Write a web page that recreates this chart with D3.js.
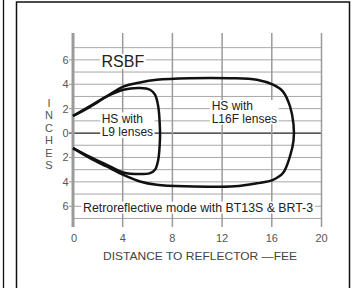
<!DOCTYPE html>
<html>
<head>
<meta charset="utf-8">
<script src="https://cdn.jsdelivr.net/npm/d3@7"></script>
<style>
  html, body { margin: 0; padding: 0; background: #fff; }
  svg { display: block; }
  text { font-family: "Liberation Sans", Arial, sans-serif; }
</style>
</head>
<body>
<svg id="chart" width="352" height="288"></svg>
<script>
// ---- data ----
const xTicks = [0, 4, 8, 12, 16, 20];
const yTickValues = [6, 4, 2, 0, -2, -4, -6];
const yTickLabels = ["6", "4", "2", "0", "2", "4", "6"];
const gridRows = [7, 6, 5, 4, 3, 2, 1, 0, -1, -2, -3, -4, -5, -6, -7];
const yTitle = "INCHES";
const xTitle = "DISTANCE TO REFLECTOR \u2014FEE";
const chartTitle = "RSBF";
const footnote = "Retroreflective mode with BT13S & BRT-3";

// HS with L16F lenses envelope [distance ft, inches]
const l16fCurve = [
  [0, 1.4], [1.37, 2.15], [2.71, 3.0], [4.05, 3.8], [5.39, 4.15], [6.73, 4.37],
  [9.4, 4.5], [12.6, 4.5], [14.8, 4.37], [16.1, 3.96], [16.9, 3.4], [17.46, 2.2],
  [17.75, 0.7], [17.75, -0.6], [17.46, -1.92], [16.9, -3.28], [16.1, -3.83],
  [14.8, -4.12], [13.0, -4.37], [9.0, -4.37], [6.73, -4.24], [5.39, -3.97],
  [4.05, -3.42], [2.71, -2.74], [1.37, -2.05], [0, -1.23]
];
// HS with L9 lenses envelope
const l9Curve = [
  [0, 1.4], [1.37, 2.2], [2.71, 3.0], [4.05, 3.55], [5.39, 3.69], [6.2, 3.55],
  [6.6, 3.14], [6.86, 2.18], [7.0, 0.3], [7.0, -0.5], [6.86, -2.19], [6.6, -3.0],
  [6.2, -3.28], [5.39, -3.36], [4.05, -3.23], [2.71, -2.6], [1.37, -1.95], [0, -1.23]
];
const l9Label = ["HS with", "L9 lenses"];
const l16fLabel = ["HS with", "L16F lenses"];

// ---- drawing ----
const svg = d3.select("#chart");

// frames
svg.append("line").attr("x1", 3.5).attr("x2", 3.5).attr("y1", 0).attr("y2", 288)
  .attr("stroke", "#111").attr("stroke-width", 1.3);
svg.append("rect").attr("x", 16.5).attr("y", 2).attr("width", 333).attr("height", 300)
  .attr("fill", "none").attr("stroke", "#111").attr("stroke-width", 1.5);

const x = d3.scaleLinear().domain([0, 20]).range([73, 321.5]);
const y = d3.scaleLinear().domain([-7.7, 8.2]).range([227, 33]);

// horizontal grid
svg.append("g").selectAll("line").data(gridRows).join("line")
  .attr("x1", x(0)).attr("x2", x(20))
  .attr("y1", d => y(d)).attr("y2", d => y(d))
  .attr("stroke", d => d === 0 ? "#222" : "#a8a8a8")
  .attr("stroke-width", d => d === 0 ? 1.2 : 1);

// tick stubs left of axis for labelled rows
svg.append("g").selectAll("line").data(yTickValues).join("line")
  .attr("x1", x(0) - 4).attr("x2", x(0))
  .attr("y1", d => y(d)).attr("y2", d => y(d))
  .attr("stroke", d => d === 0 ? "#222" : "#999").attr("stroke-width", 1);

// vertical grid
svg.append("g").selectAll("line").data(xTicks).join("line")
  .attr("x1", d => x(d)).attr("x2", d => x(d))
  .attr("y1", y(8.2)).attr("y2", y(-7.7))
  .attr("stroke", "#9a9a9a")
  .attr("stroke-width", d => d === 0 ? 3 : 1.5);

// y tick labels
svg.append("g").selectAll("text").data(yTickValues).join("text")
  .attr("x", x(0) - 4.5).attr("y", d => y(d) + 4)
  .attr("text-anchor", "end").attr("font-size", 11).attr("fill", "#555")
  .text((d, i) => yTickLabels[i]);

// x tick labels
svg.append("g").selectAll("text").data(xTicks).join("text")
  .attr("x", d => x(d) + (d === 0 ? 1 : 0)).attr("y", 242)
  .attr("text-anchor", "middle").attr("font-size", 11).attr("fill", "#555")
  .text(d => d);

// y title stacked letters
svg.append("g").selectAll("text").data(yTitle.split("")).join("text")
  .attr("x", 49).attr("y", (d, i) => 107 + i * 12.4)
  .attr("text-anchor", "middle").attr("font-size", 11).attr("fill", "#555")
  .text(d => d);

// x title
svg.append("text").attr("x", 103).attr("y", 259.5)
  .attr("font-size", 11.5).attr("fill", "#444")
  .attr("textLength", 194).attr("lengthAdjust", "spacingAndGlyphs")
  .text(xTitle);

// label helper with white background
function boxedText(lines, x0, baseline, size, lineH, fill, tl) {
  const g = svg.append("g");
  const r = g.append("rect").attr("fill", "#fff");
  const t = g.append("text").attr("font-size", size).attr("fill", fill);
  lines.forEach((s, i) => {
    const ts = t.append("tspan").attr("x", x0).attr("y", baseline + i * lineH).text(s);
    if (tl) ts.attr("textLength", tl).attr("lengthAdjust", "spacingAndGlyphs");
  });
  const b = t.node().getBBox();
  r.attr("x", b.x - 1.5).attr("y", b.y + 1).attr("width", b.width + 3).attr("height", b.height - 2);
  return g;
}

// curves
const line = d3.line().x(d => x(d[0])).y(d => y(d[1])).curve(d3.curveCatmullRom.alpha(0.5));

boxedText(l9Label, 101.7, 122.5, 12, 13.5, "#222");
boxedText(l16fLabel, 211.7, 110, 12, 12.5, "#222");
boxedText([chartTitle], 101.5, 66.8, 16, 16, "#222");
boxedText([footnote], 83, 211.6, 12, 12, "#222", 230);

svg.append("path").attr("d", line(l16fCurve)).attr("fill", "none")
  .attr("stroke", "#111").attr("stroke-width", 2.5).attr("stroke-linejoin", "round");
svg.append("path").attr("d", line(l9Curve)).attr("fill", "none")
  .attr("stroke", "#111").attr("stroke-width", 2.5).attr("stroke-linejoin", "round");
</script>
</body>
</html>
